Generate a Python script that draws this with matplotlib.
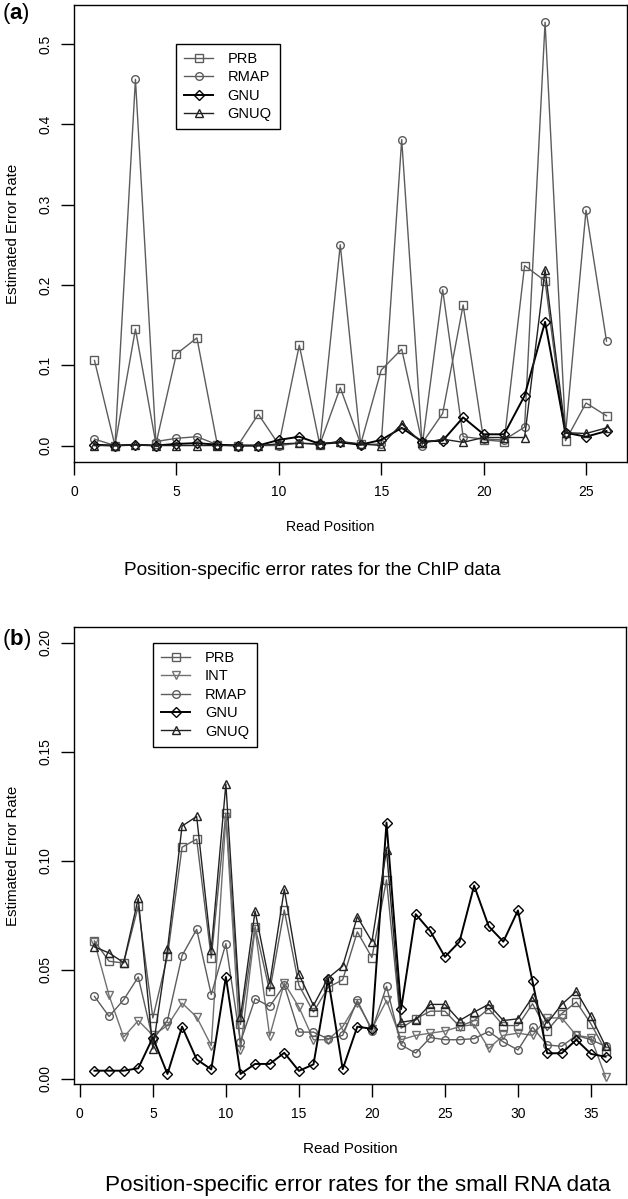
import numpy as np
import matplotlib
matplotlib.use('Agg')
import matplotlib.pyplot as plt
from matplotlib.ticker import FormatStrFormatter

plt.rcParams['font.family'] = ['Liberation Sans', 'DejaVu Sans']
plt.rcParams['mathtext.fontset'] = 'custom'
plt.rcParams['mathtext.rm'] = 'Liberation Sans'
plt.rcParams['mathtext.bf'] = 'Liberation Sans:bold'

# ---- panel (a): ChIP data, read positions 1..26
posA = np.arange(1, 27)
prbA = [0.106, 0.000, 0.145, 0.002, 0.114, 0.134, 0.001, 0.000, 0.039, 0.001,
        0.125, 0.001, 0.072, 0.002, 0.094, 0.120, 0.003, 0.040, 0.175, 0.007,
        0.005, 0.224, 0.205, 0.006, 0.053, 0.037]
rmapA = [0.008, 0.000, 0.456, 0.005, 0.009, 0.011, 0.001, 0.000, 0.000, 0.000,
         0.003, 0.001, 0.250, 0.001, 0.002, 0.381, 0.000, 0.194, 0.011, 0.008,
         0.007, 0.023, 0.527, 0.015, 0.293, 0.130]
gnuA = [0.001, 0.000, 0.001, 0.000, 0.002, 0.003, 0.001, 0.000, 0.000, 0.007,
        0.011, 0.002, 0.004, 0.001, 0.007, 0.022, 0.005, 0.006, 0.035, 0.014,
        0.014, 0.062, 0.154, 0.016, 0.011, 0.018]
gnuqA = [0.000, 0.000, 0.001, 0.000, 0.000, 0.000, 0.000, 0.000, 0.000, 0.002,
         0.003, 0.002, 0.005, 0.002, 0.000, 0.027, 0.003, 0.008, 0.004, 0.010,
         0.010, 0.010, 0.219, 0.016, 0.015, 0.022]

# ---- panel (b): small RNA data, read positions 1..36
posB = np.arange(1, 37)
prbB = [0.0633, 0.054, 0.0532, 0.0793, 0.028, 0.0563, 0.1063, 0.110, 0.0554, 0.122,
        0.025, 0.0698, 0.0403, 0.0775, 0.043, 0.0307, 0.042, 0.0455, 0.0675, 0.0557,
        0.0913, 0.0233, 0.0276, 0.0311, 0.0311, 0.0241, 0.0268, 0.0322, 0.0245, 0.0245,
        0.0345, 0.0222, 0.030, 0.0353, 0.0253, 0.013]
intB = [0.0629, 0.0383, 0.0192, 0.0268, 0.020, 0.0245, 0.0348, 0.0284, 0.0153, 0.120,
        0.0133, 0.069, 0.0197, 0.044, 0.033, 0.018, 0.018, 0.024, 0.035, 0.023,
        0.036, 0.018, 0.020, 0.021, 0.022, 0.024, 0.025, 0.014, 0.020, 0.021,
        0.020, 0.028, 0.028, 0.020, 0.019, 0.001]
rmapB = [0.0379, 0.0287, 0.0363, 0.0468, 0.018, 0.0268, 0.0566, 0.0686, 0.0387, 0.0621,
         0.017, 0.0368, 0.0333, 0.043, 0.0215, 0.0215, 0.0184, 0.020, 0.036, 0.0222,
         0.0425, 0.0156, 0.0119, 0.019, 0.018, 0.018, 0.0185, 0.0218, 0.017, 0.0133,
         0.0238, 0.0156, 0.015, 0.020, 0.018, 0.015]
gnuB = [0.0038, 0.0038, 0.0038, 0.0049, 0.019, 0.0023, 0.024, 0.009, 0.0044, 0.0468,
        0.0023, 0.0069, 0.0069, 0.012, 0.0037, 0.0067, 0.046, 0.0045, 0.024, 0.023,
        0.1176, 0.032, 0.0756, 0.0678, 0.056, 0.063, 0.0887, 0.070, 0.063, 0.0773,
        0.0448, 0.0118, 0.0118, 0.018, 0.0115, 0.0102]
gnuqB = [0.0606, 0.0578, 0.0534, 0.0828, 0.0138, 0.0595, 0.116, 0.1204, 0.0592, 0.1353,
         0.0284, 0.077, 0.0437, 0.087, 0.048, 0.0337, 0.0463, 0.0518, 0.0744, 0.063,
         0.105, 0.026, 0.0271, 0.0342, 0.0342, 0.0268, 0.0307, 0.0342, 0.0268, 0.0276,
         0.0376, 0.0256, 0.0342, 0.0402, 0.0287, 0.015]

W, H = 628, 1199
fig = plt.figure(figsize=(W / 100, H / 100), dpi=100)

def px_axes(l, t, r, b):
    return fig.add_axes([l / W, 1 - b / H, (r - l) / W, (b - t) / H])

axA = px_axes(74, 5, 627, 462)
axB = px_axes(74, 627, 626, 1084)

def series(ax, x, y, label, marker, color, lw=1.0):
    ax.plot(x, y, color=color, lw=lw, marker=marker, ms=5.5, mfc='none',
            mec=color, mew=1.0, label=label)

series(axA, posA, prbA, 'PRB', 's', '#5c5c5c')
series(axA, posA, rmapA, 'RMAP', 'o', '#5c5c5c')
series(axA, posA, gnuA, 'GNU', 'D', 'black', 1.4)
series(axA, posA, gnuqA, 'GNUQ', '^', '#222222')

series(axB, posB, prbB, 'PRB', 's', '#5c5c5c')
series(axB, posB, intB, 'INT', 'v', '#707070')
series(axB, posB, rmapB, 'RMAP', 'o', '#5c5c5c')
series(axB, posB, gnuB, 'GNU', 'D', 'black', 1.4)
series(axB, posB, gnuqB, 'GNUQ', '^', '#222222')

axA.set_xlim(0, 27)
axA.set_ylim(-0.0205, 0.5485)
axA.set_xticks(np.arange(0, 26, 5))
axA.set_yticks(np.arange(0, 0.51, 0.1))
axA.yaxis.set_major_formatter(FormatStrFormatter('%.1f'))

axB.set_xlim(-0.4, 37.4)
axB.set_ylim(-0.0023, 0.2073)
axB.set_xticks(np.arange(0, 36, 5))
axB.set_yticks(np.arange(0, 0.201, 0.05))
axB.yaxis.set_major_formatter(FormatStrFormatter('%.2f'))

for ax, legx, legy, xlx, xlsize in [(axA, 0.1844, 0.9147, 0.464, 10.2),
                                    (axB, 0.1431, 0.965, 0.5, 11)]:
    for s in ax.spines.values():
        s.set_linewidth(1.0)
    ax.tick_params(direction='out', length=9.5, width=1.0, labelsize=10, pad=7)
    ax.tick_params(axis='y', labelrotation=90, pad=6)
    for t in ax.get_yticklabels():
        t.set_va('center')
    ax.set_ylabel('Estimated Error Rate', fontsize=10.8, va='center')
    ax.yaxis.set_label_coords(-0.110, 0.5)
    ax.set_xlabel('Read Position', fontsize=xlsize)
    ax.xaxis.set_label_coords(xlx, -0.128)
    leg = ax.legend(loc='upper left', bbox_to_anchor=(legx, legy), borderaxespad=0,
                    fontsize=10.5, handlelength=2.0, handletextpad=1.0,
                    labelspacing=0.3, borderpad=0.55, fancybox=False, framealpha=1)
    leg.get_frame().set_edgecolor('black')
    leg.get_frame().set_linewidth(1.0)

fig.text(312 / W, 1 - 570 / H, 'Position-specific error rates for the ChIP data',
         ha='center', va='center', fontsize=13.7)
fig.text(358 / W, 1 - 1186 / H, 'Position-specific error rates for the small RNA data',
         ha='center', va='center', fontsize=16.2)
fig.text(2 / W, 1 - 14 / H, r'($\mathbf{a}$)', ha='left', va='center', fontsize=16)
fig.text(2 / W, 1 - 640 / H, r'($\mathbf{b}$)', ha='left', va='center', fontsize=16)

fig.savefig('out.png', dpi=100)
